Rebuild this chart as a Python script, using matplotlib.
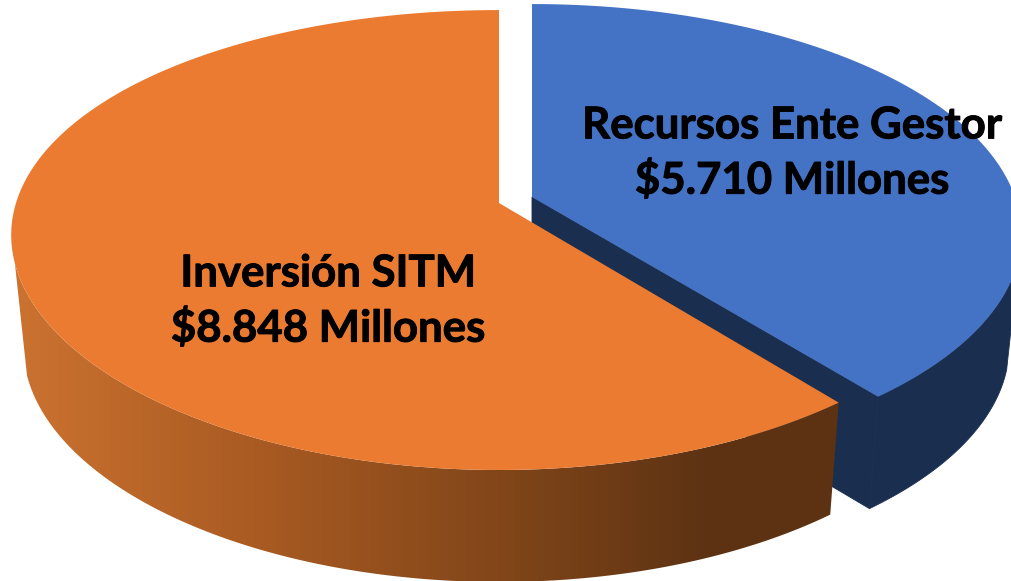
import numpy as np
import matplotlib
matplotlib.use("Agg")
import matplotlib.pyplot as plt
import matplotlib.patheffects as pe
from matplotlib.colors import LinearSegmentedColormap
from matplotlib.patches import Polygon

labels = ["Inversión SITM\n$8.848 Millones", "Recursos Ente Gestor\n$5.710 Millones"]
values = [8848, 5710]

# perspective of the disc, pixels
R = 483
PERSP_Y = 0.161
SQUASH = 224
DEPTH = 112
SHRINK = 0.975
# the side wall stops 15 degrees below the flank, the top face hides the rest
FLANK = np.radians(15)


def project(theta, cx, cy, px, bottom=False):
    # theta is measured clockwise from 12 o'clock
    u = np.sin(theta)
    v = np.cos(theta)
    k = SHRINK if bottom else 1.0
    x = cx + k * R * u / (1 + px * v)
    y = cy - SQUASH * v / (1 + PERSP_Y * v)
    if bottom:
        y = y + DEPTH
    return np.column_stack([x, y])


def rim(a0, a1, cx, cy, px, bottom=False):
    return project(np.linspace(a0, a1, 300), cx, cy, px, bottom)


fig = plt.figure(figsize=(10.12, 5.81), dpi=100)
ax = fig.add_axes([0, 0, 1, 1])

cut = 2 * np.pi * values[1] / sum(values)
OC = (499, 203, 0.14)
BC = (532, 197, 0.161)

# blue slice, walls first
blue_top = rim(0, cut, *BC)
blue_wall_top = rim(np.pi / 2 + FLANK, cut, *BC)
blue_wall_low = rim(np.pi / 2 + FLANK, cut, *BC, bottom=True)
apex = BC[:2]
apex_low = (BC[0], BC[1] + DEPTH)
ax.add_patch(Polygon(np.vstack([blue_wall_top, blue_wall_low[::-1]]), fc="#1a2e50", ec="#1a2e50", lw=0.6, zorder=1))
ax.add_patch(Polygon([apex, blue_top[-1], blue_wall_low[-1], apex_low], fc="#1a2e50", ec="#1a2e50", lw=0.6, zorder=1))
ax.add_patch(Polygon(np.vstack([[apex], blue_top]), fc="#4472c4", ec="none", zorder=2))

# orange slice, the wall has a left to right gradient
org_top = rim(cut, 2 * np.pi, *OC)
wall_top = rim(cut, 1.5 * np.pi - FLANK, *OC)
wall_low = rim(cut, 1.5 * np.pi - FLANK, *OC, bottom=True)
wall = Polygon(np.vstack([wall_top, wall_low[::-1]]), fc="none", ec="none", zorder=3)
ax.add_patch(wall)
shade = LinearSegmentedColormap.from_list(
    "wall", [(0, "#cb7230"), (0.3, "#a85a22"), (0.6, "#804519"), (0.85, "#5c3213"), (1, "#5c3213")]
)
img = ax.imshow(np.linspace(0, 1, 256)[None, :], extent=(15, 840, 581, 0), cmap=shade,
                aspect="auto", zorder=3, interpolation="bilinear")
img.set_clip_path(wall)
ax.add_patch(Polygon(np.vstack([[OC[:2]], org_top]), fc="#ea7b31", ec="none", zorder=4))

heavy = [pe.withStroke(linewidth=0.7, foreground="black")]
ax.text(328, 301, labels[0], ha="center", va="center", fontsize=31.5, fontweight="bold",
        family="Lato", color="black", linespacing=1.38, zorder=5, path_effects=heavy)
ax.text(792, 153, labels[1], ha="center", va="center", fontsize=31.5, fontweight="bold",
        family="Lato", color="black", linespacing=1.38, zorder=5, path_effects=heavy)

ax.set_xlim(0, 1012)
ax.set_ylim(581, 0)
ax.axis("off")
fig.savefig("out.png", dpi=100)
